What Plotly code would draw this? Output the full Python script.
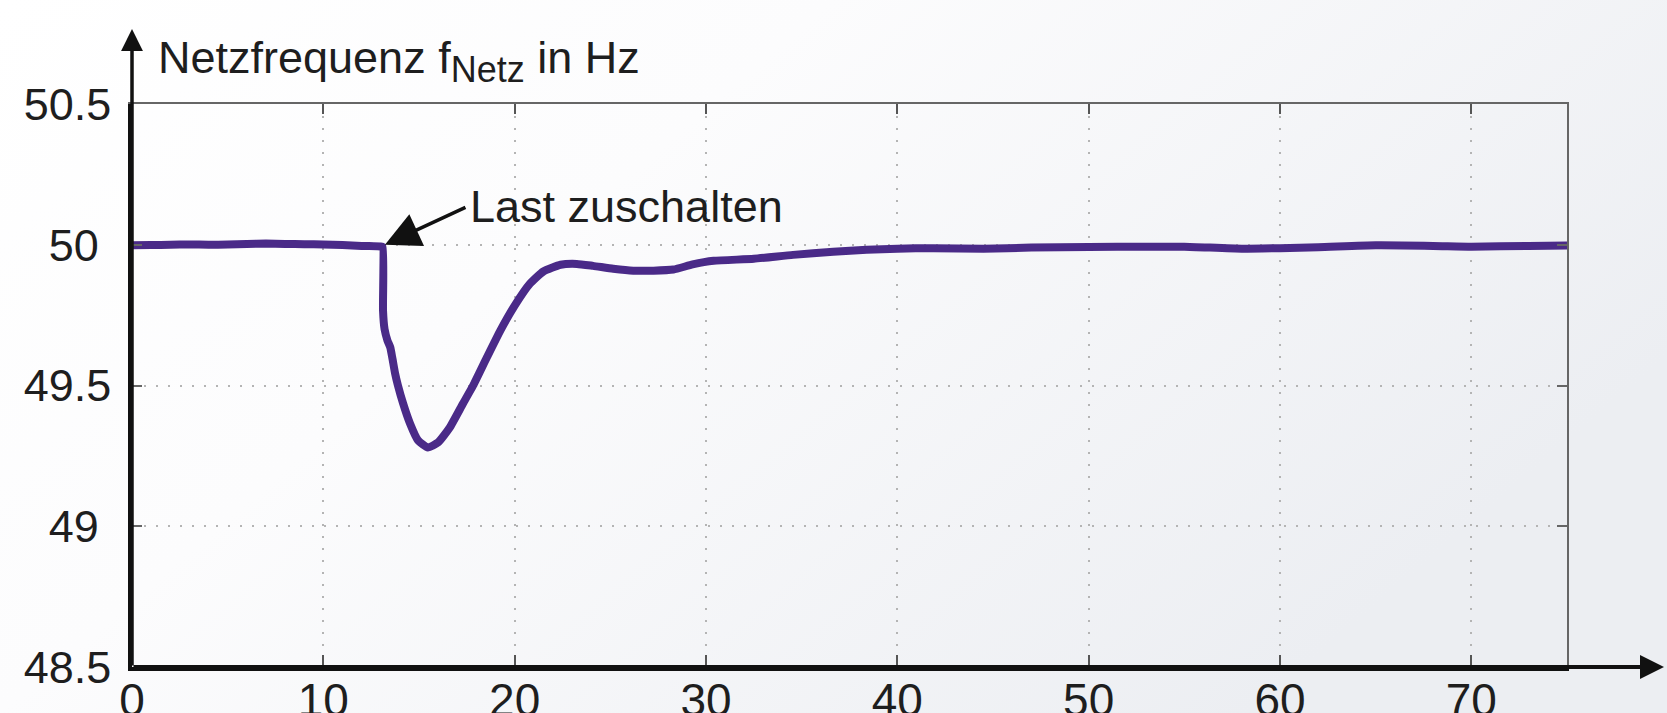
import base64
import plotly.graph_objects as go

# ---- data ----
time_s = [0, 1, 2, 3, 4, 5, 6, 7, 8, 9, 10, 11, 12, 13.0, 13.1, 13.12, 13.2, 13.35, 13.5,
          13.6, 13.75, 13.9, 14.17, 14.53, 14.95, 15.47, 16.0, 16.6, 17.3, 17.83, 18.55,
          19.25, 20.0, 20.8, 21.5, 22.4, 23.25, 24.1, 25.15, 26.2, 27.25, 28.3, 29.3,
          30.4, 32.5, 34.55, 36.65, 38.4, 40.0, 41.9, 44.5, 47, 50, 53, 55, 58, 60, 62,
          65, 68, 70, 73, 75]
freq_hz = [49.998, 49.999, 50.0, 50.001, 50.0, 50.001, 50.003, 50.004, 50.003, 50.002,
           50.001, 49.999, 49.996, 49.994, 49.993, 49.766, 49.70, 49.66, 49.635,
           49.60, 49.543, 49.50, 49.436, 49.365, 49.305, 49.28, 49.298, 49.35, 49.436,
           49.50, 49.60, 49.695, 49.784, 49.862, 49.905, 49.929, 49.932, 49.925,
           49.915, 49.908, 49.908, 49.912, 49.93, 49.943, 49.95, 49.964, 49.975,
           49.982, 49.986, 49.988, 49.986, 49.99, 49.992, 49.993, 49.993, 49.986,
           49.988, 49.991, 49.998, 49.996, 49.993, 49.996, 49.997]

x_ticks = [0, 10, 20, 30, 40, 50, 60, 70]
x_tick_labels = ["0", "10", "20", "30", "40", "50", "60", "70"]
y_ticks = [48.5, 49, 49.5, 50, 50.5]
y_tick_labels = ["48.5", "49\u00a0", "49.5", "50\u00a0", "50.5"]
x_range = [0, 75]
y_range = [48.5, 50.5]

event_time = 13.12
event_freq = 50.0

FONT = "Liberation Sans, Arial, sans-serif"
TXT = "#1e1e1e"
LINE_COLOR = "#4a2a88"

W, H = 1667, 713
ML, MR, MT, MB = 132, 100, 104, 46
PW, PH = W - ML - MR, H - MT - MB

fig = go.Figure()
fig.add_trace(go.Scatter(x=time_s, y=freq_hz, mode="lines",
                         line=dict(color=LINE_COLOR, width=8, shape="spline", smoothing=0.5),
                         hoverinfo="skip", showlegend=False))
# helper trace for the top/right frame axes
fig.add_trace(go.Scatter(x=[x_range[0]], y=[y_range[0]], xaxis="x2", yaxis="y2",
                         mode="markers", opacity=0, hoverinfo="skip", showlegend=False))

grid = dict(showgrid=True, gridcolor="#b4b4b4", gridwidth=2, griddash="2px,10px")

fig.update_layout(
    width=W, height=H,
    margin=dict(l=ML, r=MR, t=MT, b=MB, pad=0, autoexpand=False),
    paper_bgcolor="white", plot_bgcolor="rgba(0,0,0,0)",
    font=dict(family=FONT, size=45, color=TXT),
    xaxis=dict(range=x_range, tickvals=x_ticks, ticktext=x_tick_labels,
               showline=True, linecolor="#111", linewidth=4, ticks="inside",
               ticklen=12, tickwidth=1.5, tickcolor="#555", zeroline=False,
               ticklabelstandoff=-10, ticklabeloverflow="allow",
               tickfont=dict(size=46), automargin=False, **grid),
    yaxis=dict(range=y_range, tickvals=y_ticks, ticktext=y_tick_labels,
               showline=True, linecolor="#111", linewidth=3.5, ticks="inside",
               ticklen=10, tickwidth=1.5, tickcolor="#666", zeroline=False,
               ticklabelstandoff=8, ticklabeloverflow="allow",
               tickfont=dict(size=45), automargin=False, **grid),
    xaxis2=dict(range=x_range, overlaying="x", side="top", anchor="y2",
                tickvals=x_ticks, showticklabels=False, showline=True,
                linecolor="#666", linewidth=2, ticks="inside", ticklen=10,
                tickwidth=1.5, tickcolor="#555", showgrid=False, zeroline=False,
                automargin=False),
    yaxis2=dict(range=y_range, overlaying="y", side="right", anchor="x2",
                tickvals=y_ticks, showticklabels=False, showline=True,
                linecolor="#666", linewidth=2, ticks="inside", ticklen=10,
                tickwidth=1.5, tickcolor="#666", showgrid=False, zeroline=False,
                automargin=False),
)

# background gradient
svg = (f"<svg xmlns='http://www.w3.org/2000/svg' width='{W}' height='{H}' preserveAspectRatio='none'>"
       "<defs><linearGradient id='g' x1='0' y1='0' x2='1' y2='0.5'>"
       "<stop offset='0' stop-color='#ffffff'/>"
       "<stop offset='0.4' stop-color='#fcfcfd'/>"
       "<stop offset='1' stop-color='#eceef2'/>"
       "</linearGradient></defs>"
       f"<rect width='{W}' height='{H}' fill='url(#g)'/></svg>")
src = "data:image/svg+xml;base64," + base64.b64encode(svg.encode()).decode()
fig.add_layout_image(dict(source=src, xref="paper", yref="paper",
                          x=-ML / PW, y=(H - MB) / PH, sizex=W / PW, sizey=H / PH,
                          xanchor="left", yanchor="top", sizing="stretch", layer="below"))

# axis arrows
tip_y_px = PH + MT - 29
fig.add_annotation(x=0, y=tip_y_px / PH, xref="paper", yref="paper", text="",
                   showarrow=True, ax=0, ay=tip_y_px, axref="pixel", ayref="pixel",
                   arrowhead=2, arrowsize=1.25, arrowwidth=3.5, arrowcolor="#111",
                   standoff=0, startstandoff=0)
tip_x_px = 1664 - ML
fig.add_annotation(x=tip_x_px / PW, y=0, xref="paper", yref="paper", text="",
                   showarrow=True, ax=-tip_x_px, ay=0,
                   arrowhead=2, arrowsize=1.2, arrowwidth=4, arrowcolor="#111",
                   standoff=0, startstandoff=0)

# y-axis title
fig.add_annotation(x=(156 - ML) / PW, y=(H - MB - 61) / PH, xref="paper", yref="paper",
                   text="Netzfrequenz f<sub><span style='font-size:36px'>Netz</span></sub> in Hz",
                   showarrow=False, xanchor="left", yanchor="middle",
                   font=dict(family=FONT, size=45, color=TXT))

# event annotation
fig.add_annotation(x=event_time + 0.1, y=event_freq, xref="x", yref="y", text="",
                   showarrow=True, ax=82, ay=-38, arrowhead=2, arrowsize=2.0,
                   arrowwidth=3.5, arrowcolor="#111", standoff=0)
fig.add_annotation(x=17.57, y=50.135, xref="x", yref="y", text="Last zuschalten",
                   showarrow=False, xanchor="left", yanchor="middle",
                   font=dict(family=FONT, size=45, color=TXT))

fig.write_html("out.html", config={"displayModeBar": False},
               post_script="document.body.style.margin='0';document.body.style.padding='0';")
